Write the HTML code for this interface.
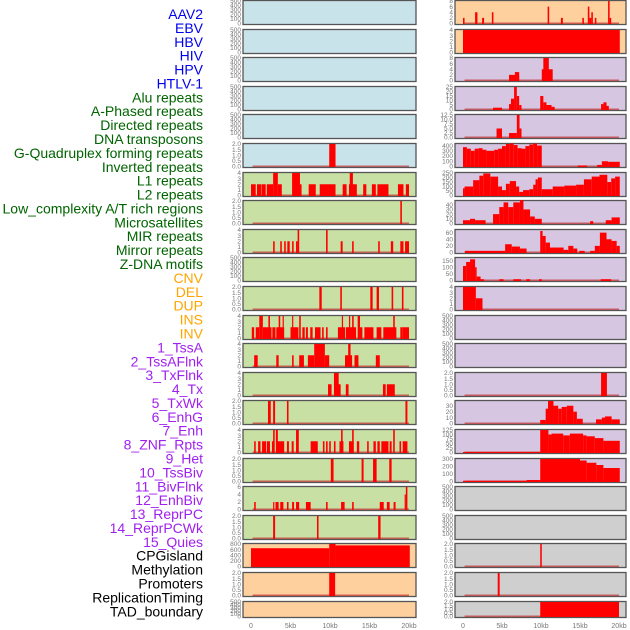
<!DOCTYPE html>
<html><head><meta charset="utf-8"><style>
html,body{margin:0;padding:0;background:#fff;}
svg{display:block;font-family:"Liberation Sans",sans-serif;}
</style></head><body>
<svg id="c" width="630" height="630" viewBox="0 0 630 630"></svg>
<script>
const trackLabels=["AAV2","EBV","HBV","HIV","HPV","HTLV-1","Alu repeats","A-Phased repeats","Directed repeats","DNA transposons","G-Quadruplex forming repeats","Inverted repeats","L1 repeats","L2 repeats","Low_complexity A/T rich regions","Microsatellites","MIR repeats","Mirror repeats","Z-DNA motifs","CNV","DEL","DUP","INS","INV","1_TssA","2_TssAFlnk","3_TxFlnk","4_Tx","5_TxWk","6_EnhG","7_Enh","8_ZNF_Rpts","9_Het","10_TssBiv","11_BivFlnk","12_EnhBiv","13_ReprPC","14_ReprPCWk","15_Quies","CPGisland","Methylation","Promoters","ReplicationTiming","TAD_boundary"];
const labelGroups=["v","v","v","v","v","v","r","r","r","r","r","r","r","r","r","r","r","r","r","s","s","s","s","s","c","c","c","c","c","c","c","c","c","c","c","c","c","c","c","k","k","k","k","k"];
const xTickLabels=["0","5kb","10kb","15kb","20kb"];
const xTickValues=[0,5,10,15,20];
// Left column panels: [bg, max, ticks]
const leftBg=["b","b","b","b","b","b","g","g","g","g","g","g","g","g","g","g","g","g","g","o","o","o"];
const leftMax=[500,500,500,500,500,2,4,2,4,500,2,4,4,4,2,4,2,6,2,800,2,500];
const rightBg=["o","o","p","p","p","p","p","p","p","p","p","p","p","p","p","p","p","y","y","y","y","y"];
const rightMax=[8,4,8,25,12.5,430,250,48,68,170,4,500,500,2,38,125,300,500,500,2,2,2];
const rightTickStep=[2,1,2,5,2.5,100,50,10,20,50,1,100,100,0.5,10,25,100,100,100,0.5,0.5,0.5];
// segments [startKb,endKb,value]
const L5=[[9.9,10.7,2]];
const L6=[[0,0.6,2],[0.76,1.3,2],[1.35,1.86,2],[2.0,2.8,2],[2.8,3.4,4],[3.4,3.9,2],[5.2,6.2,4],[6.2,6.4,2],[7.3,8.2,2],[8.7,10.7,2],[11.6,12.1,2],[12.4,13.4,2],[12.5,12.9,4],[14.2,14.6,2],[15.3,15.8,2],[16.0,17.4,2],[18.6,19.3,2],[19.6,20.0,2]];
const L7=[[18.9,19.1,2]];
const L8=[[2.8,3.0,2],[3.7,3.9,2],[4.2,4.4,2],[4.6,4.9,2],[5.2,5.4,2],[5.7,5.9,2],[5.9,6.1,4],[9.5,9.7,4],[11.35,11.6,2],[12.8,13.0,2],[16.1,16.3,2],[17.7,18.0,2],[18.9,19.3,2],[19.5,20.0,2]];
const L10=[[8.65,8.95,2],[11.3,11.5,2],[15.1,15.4,2],[15.9,16.2,2],[17.8,18.0,2],[19.1,19.3,2]];
const L11=[[0.1,0.4,2],[0.6,1.05,2],[1.05,1.5,4],[1.5,2.6,2],[2.2,2.4,4],[2.7,3.1,2],[3.2,4.2,2],[3.5,3.7,4],[4.0,4.1,4],[5.0,6.0,2],[5.2,5.35,4],[6.1,6.3,4],[6.5,6.8,2],[6.95,7.2,2],[7.5,7.8,2],[8.1,8.8,2],[9.0,9.2,2],[9.5,9.7,2],[11.0,11.9,2],[11.5,11.6,4],[12.0,13.3,2],[12.4,12.5,4],[12.8,13.0,4],[13.5,13.8,4],[13.6,14.1,2],[14.35,15.5,2],[15.9,16.5,2],[16.75,18.4,2],[18.0,18.2,4],[18.9,19.2,2],[19.2,20.0,2]];
const L12=[[0.4,0.85,2],[3.2,3.5,2],[5.2,5.4,2],[6.1,6.7,2],[7.2,8.0,2],[8.0,9.35,4],[9.35,9.9,2],[11.9,12.8,2],[12.3,12.6,4],[13.1,13.6,2],[15.8,16.3,2]];
const L13=[[9.75,10.2,2],[10.5,11.1,4],[10.75,11.35,2],[12.0,12.35,2],[16.7,17.05,2],[17.2,18.2,2]];
const L14=[[2.15,2.5,2],[2.8,3.05,2],[4.55,4.75,2],[19.55,19.8,2]];
const L15=[[0.4,0.6,2],[0.9,1.2,2],[1.4,1.9,2],[2.0,2.4,2],[2.65,2.85,2],[2.8,3.0,4],[3.15,3.4,4],[3.3,4.2,2],[4.55,4.8,2],[5.15,5.4,2],[5.7,6.05,4],[7.55,8.45,2],[9.1,9.3,2],[9.5,9.7,2],[9.9,10.1,2],[10.5,10.7,2],[11.2,11.7,2],[11.4,11.6,4],[12.4,13.0,2],[12.8,13.0,4],[13.4,13.7,2],[14.7,14.9,2],[15.5,15.8,2],[16.0,16.3,2],[16.5,17.4,2],[17.55,17.8,2],[18.0,18.2,4],[18.8,19.0,2],[19.2,19.8,2]];
const L16=[[10.1,10.45,2],[14.0,14.25,2],[15.45,15.9,2],[17.5,17.8,2]];
const L17=[[0.4,0.6,2],[2.8,2.95,2],[3.1,3.5,2],[3.7,4.1,2],[4.55,4.75,2],[5.2,5.45,2],[5.7,6.1,2],[6.95,7.55,2],[9.5,9.7,2],[11.4,11.85,2],[12.8,13.0,2],[16.3,16.8,2],[17.2,17.55,2],[18.05,18.3,2],[19.45,19.6,4],[19.6,19.8,6]];
const L18=[[2.8,3.05,2],[8.35,8.55,2],[16.1,16.4,2]];
const L19=[[0,9.9,650],[9.9,10.7,800],[10.7,20.1,750]];
const L20=[[9.9,10.65,2]];
const R0=[[0,0.2,2],[1.55,1.85,4],[2.45,2.7,2],[3.7,3.9,4],[10.85,11.05,6],[12.55,12.8,2],[15.3,15.5,2],[16.0,16.2,6],[16.2,16.45,2],[16.45,16.65,4],[16.9,17.1,2],[18.6,18.8,8],[18.8,19.0,2]];
const R1=[[0,20.1,4]];
const R2=[[5.9,7.2,2],[6.65,7.2,3],[10.1,11.5,4],[10.3,11.0,8]];
const R3=[[3.85,5.0,2],[5.9,6.15,6],[6.15,6.55,12],[6.55,6.9,25],[6.9,7.2,15],[7.2,7.5,5],[9.9,10.3,15],[10.3,10.7,8],[10.7,11.35,5],[11.35,11.75,3],[17.7,18.0,6],[18.0,18.4,8],[18.4,18.7,4]];
const R4=[[4.3,5.0,5],[5.9,6.9,2.5],[6.9,7.25,12.5],[7.25,7.5,5]];
const R5=[[0,0.5,370],[0.5,1,340],[1,1.5,300],[1.5,2,340],[2,2.5,350],[2.5,3,320],[3,4,300],[4,4.5,320],[4.5,5,340],[5,5.5,390],[5.5,6,430],[6,6.5,440],[6.5,7,410],[7,7.5,350],[7.5,8,340],[8,8.5,390],[8.5,9,420],[9,9.5,440],[9.5,10.1,400],[14.7,15.9,20],[17.2,17.8,30],[17.8,18.6,100],[18.6,20.1,90]];
const R6=[[0,0.2,80],[0.2,1.3,100],[1.3,2.1,170],[2.1,2.6,220],[2.6,3.5,245],[3.5,4.5,210],[4.5,5.0,100],[5.0,5.5,60],[5.5,6.0,130],[6.0,6.8,160],[6.8,7.2,100],[7.2,7.7,40],[7.7,8.5,60],[8.5,9.0,70],[9.0,9.3,120],[9.3,9.6,180],[9.6,10.1,200],[10.1,11.5,70],[11.5,13,100],[13,14.5,110],[14.5,15.5,120],[15.5,16.5,180],[16.5,17.5,210],[17.5,18.5,230],[18.5,19,150],[19,19.5,190],[19.5,20.1,210]];
const R7=[[0,0.9,7],[0.9,1.55,10],[1.55,2.9,7],[3.85,4.65,20],[4.65,5.2,35],[5.2,5.8,45],[5.8,6.45,35],[6.45,7.3,45],[7.3,7.75,50],[7.75,8.6,30],[8.6,9.2,15],[9.2,10.1,10],[16.3,16.7,5],[18.3,19.05,7],[19.05,20.1,13]];
const R8=[[0.25,5.4,5],[5.4,6.25,25],[6.25,7.3,18],[7.3,8.15,12],[9.9,10.2,65],[10.2,10.6,50],[10.6,11.15,30],[11.15,12.9,15],[12.9,13.5,8],[13.5,14.15,20],[14.15,14.65,12],[14.9,15.6,5],[16.3,16.9,5],[16.9,17.55,20],[17.55,18.4,60],[18.4,19.05,40],[19.05,19.7,35],[19.7,20.1,20]];
const R9=[[0,0.4,110],[0.4,0.9,140],[0.9,1.55,160],[1.55,1.75,100],[1.75,2.25,30],[2.25,2.7,10],[4.65,5.2,10],[6.45,7.45,10],[8.1,8.6,10],[9.75,10.1,10],[17.65,19.0,10]];
const R10=[[0,1.65,4],[1.65,2.5,2]];
const R13=[[17.7,18.45,2]];
const R14=[[9.9,10.6,6],[10.6,10.9,25],[10.9,11.6,38],[11.6,12.2,30],[12.2,12.65,25],[12.65,13.3,28],[13.3,14.15,30],[14.15,14.6,20],[14.6,15.35,8],[17.05,17.8,7],[17.8,18.2,10],[18.2,19.05,12],[19.05,20.1,7]];
const R15=[[0,9.9,3],[9.9,10.95,125],[10.95,11.35,100],[11.35,12.85,105],[12.85,13.7,95],[13.7,15.4,105],[15.4,15.85,95],[15.85,16.9,90],[16.9,18.0,80],[18.0,20.1,65]];
const R16=[[0,8.15,10],[8.15,9.9,20],[9.9,15.0,300],[15.0,15.85,280],[15.85,17.1,250],[17.1,18.0,220],[18.0,20.1,180]];
const R19=[[9.9,10.1,2]];
const R20=[[4.45,4.7,2]];
const R21=[[9.9,20,2]];
const leftData={5:L5,6:L6,7:L7,8:L8,10:L10,11:L11,12:L12,13:L13,14:L14,15:L15,16:L16,17:L17,18:L18,19:L19,20:L20};
const rightData={0:R0,1:R1,2:R2,3:R3,4:R4,5:R5,6:R6,7:R7,8:R8,9:R9,10:R10,13:R13,14:R14,15:R15,16:R16,19:R19,20:R20,21:R21};

const NS="http://www.w3.org/2000/svg";
const svg=document.getElementById("c");
const bgColors={b:"#c9e3ea",g:"#c8e0a4",o:"#fdd09e",p:"#d6c6e2",y:"#cfcfcf"};
const labelColors={v:"#0000ee",r:"#006400",s:"#ffa500",c:"#a020f0",k:"#000000"};
function el(tag,attrs,parent){const e=document.createElementNS(NS,tag);for(const k in attrs)e.setAttribute(k,attrs[k]);(parent||svg).appendChild(e);return e;}
function panelTop(i){return Math.round(i*28.6);}
function panelH(i){return i===21?17:25;}
function xLeft(kb){return 251+kb*7.9;}
function xRight(kb){return 463+kb*7.8;}
function fmt(v,step){return step<1?v.toFixed(1):(step%1?v.toFixed(1):String(v));}

// labels
trackLabels.forEach((t,i)=>{
  const tx=el("text",{x:203,y:19+i*13.89,"text-anchor":"end","font-size":"14",fill:labelColors[labelGroups[i]]});
  tx.textContent=t;
  
  
});

function drawPanel(i,side){
  const top=panelTop(i),h=panelH(i);
  const x0=side==="L"?243:455, w=side==="L"?173:171;
  const sx=side==="L"?xLeft:xRight;
  const bg=side==="L"?leftBg[i]:rightBg[i];
  const max=side==="L"?leftMax[i]:rightMax[i];
  let step;
  if(side==="L"){step=max===2?0.5:(max===4?1:(max===6?2:(max===800?200:100)));}
  else step=rightTickStep[i];
  const g=el("g",{});
  
  
  el("rect",{x:x0,y:top+0.5,width:w,height:h-1,fill:bgColors[bg],stroke:"#555","stroke-width":1.3},g);
  const yb=top+h-1.5, yt=top+1;
  const sy=v=>yb-(v/max)*(yb-yt);
  // ticks
  for(let v=0;v<=max+1e-9;v+=step){
    const t=el("text",{x:x0-2,y:sy(v)+2.2,"text-anchor":"end","font-size":"6.5",fill:"#777"},g);
    t.textContent=fmt(v,step);
    
    
  }
  const data=side==="L"?leftData[i]:rightData[i];
  if(data){
    el("rect",{x:sx(0.2),y:yb-1,width:sx(20)-sx(0.2),height:1.5,fill:"#c03030",opacity:0.7},g);
    data.forEach(d=>{
      const r=el("rect",{x:sx(d[0]),y:sy(d[2]),width:Math.max(1.2,sx(d[1])-sx(d[0])),height:yb-sy(d[2])+0.5,fill:"#ff0000"},g);
      
      
    });
  }
}
for(let i=0;i<22;i++){drawPanel(i,"L");drawPanel(i,"R");}
// x axes
xTickValues.forEach((v,k)=>{
  [xLeft,xRight].forEach(f=>{
    const t=el("text",{x:f(v),y:628,"text-anchor":"middle","font-size":"7",fill:"#777"});
    t.textContent=xTickLabels[k];
    
    
  });
});
</script>
</body></html>
